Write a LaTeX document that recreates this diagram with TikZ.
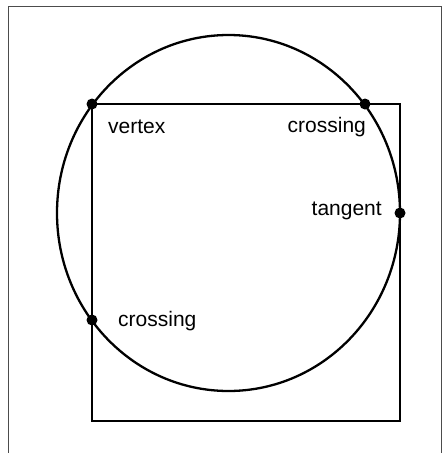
\documentclass[tikz,border=0pt]{standalone}
\usepackage{fontspec}
\setmainfont{Liberation Sans}
\begin{document}
\begin{tikzpicture}[x=1pt,y=-1pt,
  shape line/.style={line width=2.3pt,black},
  frame line/.style={line width=1pt,black!70},
  pt/.style={circle,fill=black,inner sep=0pt,minimum size=11pt},
  lbl/.style={anchor=base west,inner sep=0pt,font=\fontsize{21}{24}\selectfont}]
\useasboundingbox (0,0) rectangle (445,453);
\draw[frame line] (8,470) -- (8,6) -- (441,6) -- (441,470);
\draw[shape line] (92,104) rectangle (400,421);
\draw[shape line] (228.5,213) ellipse [x radius=171.5, y radius=178];
\node[pt] (v) at (92,104) {};
\node[pt] (c1) at (365,104) {};
\node[pt] (t) at (400,213) {};
\node[pt] (c2) at (92,320) {};
\node[lbl] (lv) at (108,133) {vertex};
\node[lbl] (lc1) at (287.5,132) {crossing};
\node[lbl] (lt) at (311.5,215) {tangent};
\node[lbl] (lc2) at (118,326) {crossing};
\end{tikzpicture}
\end{document}
